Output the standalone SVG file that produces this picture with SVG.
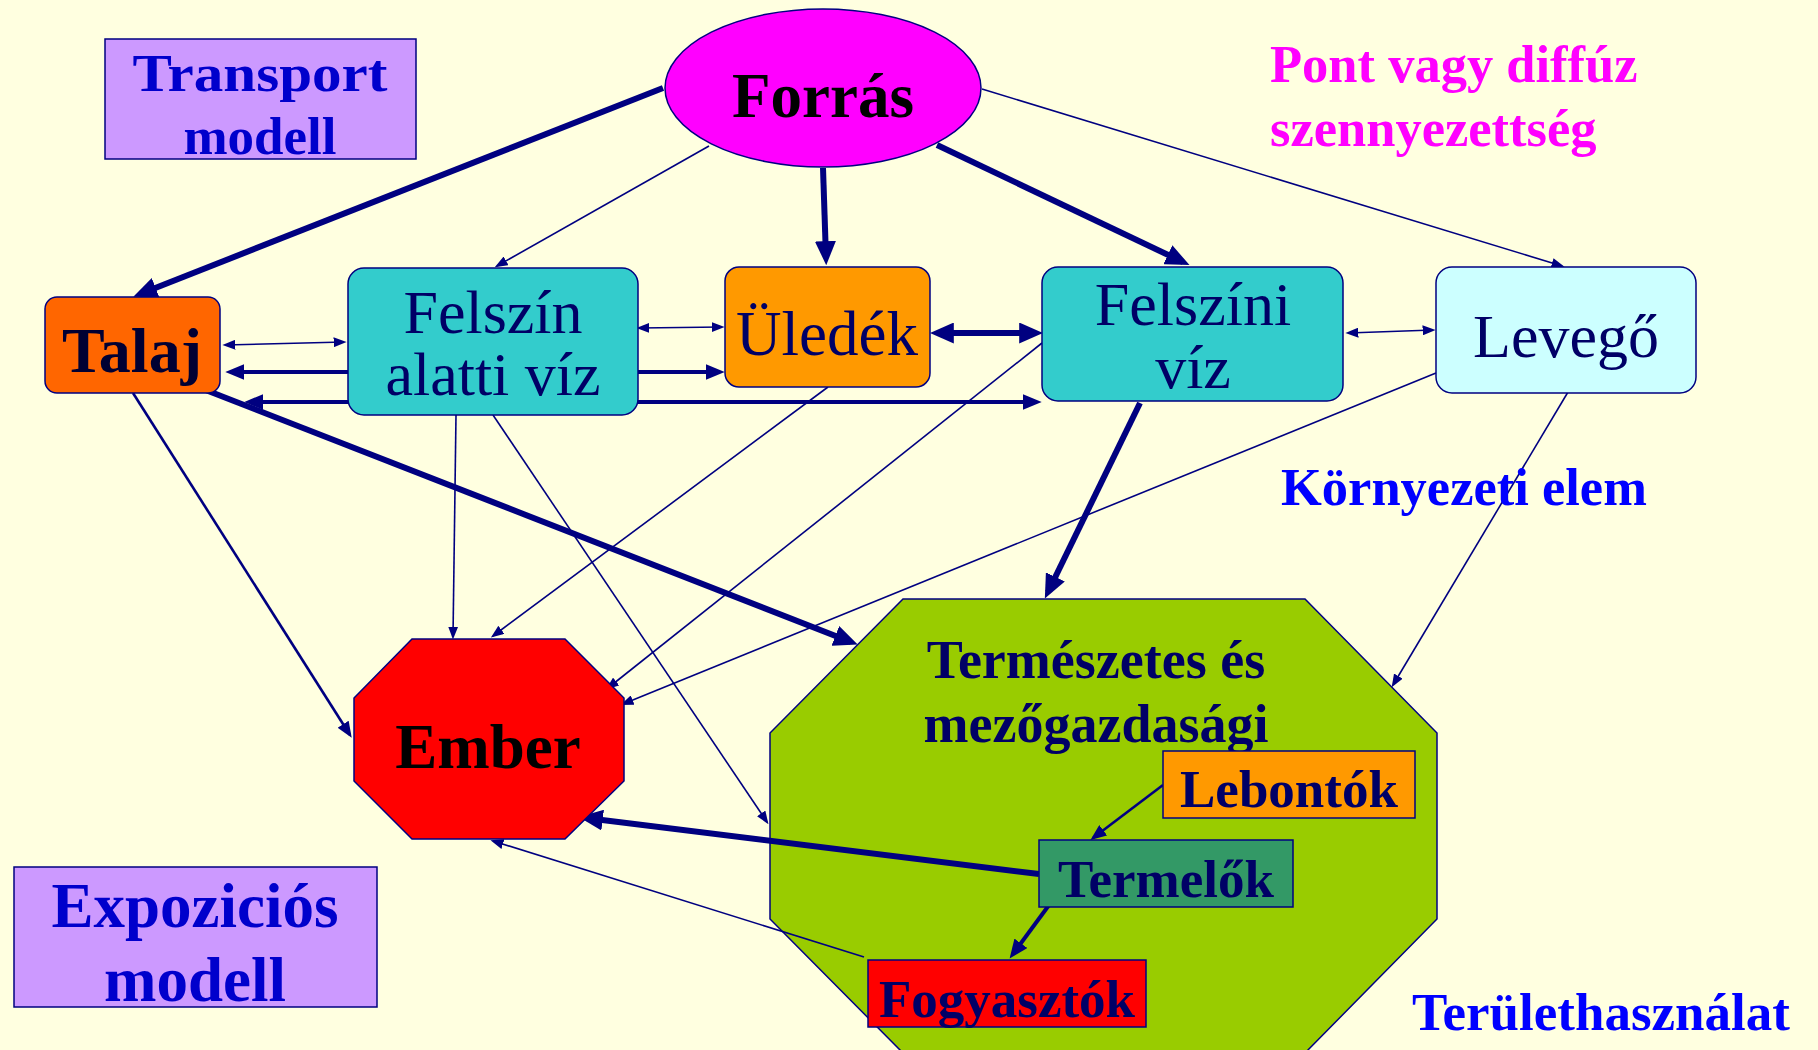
<svg xmlns="http://www.w3.org/2000/svg" width="1818" height="1050" viewBox="0 0 1818 1050">
<defs>
<style>
.bx{stroke:#000080;stroke-width:1.5}
.t{font-family:"Liberation Serif","Times New Roman",serif;text-anchor:middle}
.b{font-weight:bold}
.nv{fill:#000066}
.c{fill:none;stroke:#000080;stroke-linecap:butt}
.th{stroke-width:1.6;marker-end:url(#as)}
.md{stroke-width:4;marker-end:url(#am)}
.tk{stroke-width:6;marker-end:url(#al)}
.m2{stroke-width:2.6;marker-end:url(#am2)}
</style>
<marker id="as" viewBox="0 0 10 10" refX="8" refY="5" markerWidth="13" markerHeight="10" markerUnits="userSpaceOnUse" orient="auto-start-reverse" preserveAspectRatio="none"><path d="M0,0 L10,5 L0,10 z" fill="#000080"/></marker>
<marker id="am2" viewBox="0 0 10 10" refX="8" refY="5" markerWidth="16" markerHeight="13" markerUnits="userSpaceOnUse" orient="auto-start-reverse" preserveAspectRatio="none"><path d="M0,0 L10,5 L0,10 z" fill="#000080"/></marker>
<marker id="am" viewBox="0 0 10 10" refX="7" refY="5" markerWidth="19" markerHeight="16" markerUnits="userSpaceOnUse" orient="auto-start-reverse" preserveAspectRatio="none"><path d="M0,0 L10,5 L0,10 z" fill="#000080"/></marker>
<marker id="al" viewBox="0 0 10 10" refX="7" refY="5" markerWidth="24" markerHeight="21" markerUnits="userSpaceOnUse" orient="auto-start-reverse" preserveAspectRatio="none"><path d="M0,0 L10,5 L0,10 z" fill="#000080"/></marker>
</defs>
<rect x="0" y="0" width="1818" height="1050" fill="#FFFFE0"/>

<g id="node-termeszetes">
<polygon class="bx" fill="#99CC00" points="903,599 1305,599 1437,733 1437,919 1305,1053 903,1053 770,919 770,733"/>
<text class="t b nv" x="1096" y="678" font-size="54">Természetes és</text>
<text class="t b nv" x="1096" y="742" font-size="54">mezőgazdasági</text>
</g>

<g id="connectors">
<path class="c tk" d="M663,88 L140,294"/>
<path class="c th" d="M709,146 L497,266"/>
<path class="c tk" d="M823,168 L826,258"/>
<path class="c tk" d="M937,145 L1183,262"/>
<path class="c th" d="M982,89 L1562,266"/>
<path class="c th" d="M225,345 L344,342" style="marker-start:url(#as)"/>
<path class="c md" d="M348,372 L231,372"/>
<path class="c th" d="M639,328 L722,327" style="marker-start:url(#as)"/>
<path class="c md" d="M638,372 L719,372"/>
<path class="c md" d="M250,402 L1036,402" style="marker-start:url(#am)"/>
<path class="c tk" d="M937,333 L1036,333" style="marker-start:url(#al)"/>
<path class="c th" d="M1348,333 L1433,330" style="marker-start:url(#as)"/>
<path class="c tk" d="M198,387 L851,642"/>
<path class="c m2" d="M133,393 L350,735"/>
<path class="c th" d="M456,415 L453,637"/>
<path class="c th" d="M493,415 L767,822"/>
<path class="c th" d="M828,387 L493,636"/>
<path class="c th" d="M1042,343 L608,688"/>
<path class="c th" d="M1436,373 L623,704"/>
<path class="c tk" d="M1140,403 L1048,592"/>
<path class="c th" d="M1571,387 L1393,685"/>
<path class="c m2" d="M1163,785 L1093,838"/>
<path class="c md" d="M1052,901 L1013,954"/>
<path class="c tk" d="M1039,874 L586,818"/>
<path class="c th" d="M864,957 L493,841"/>
</g>

<g id="node-transport">
<rect class="bx" x="105" y="39" width="311" height="120" fill="#CC99FF"/>
<text class="t b" x="260" y="91" font-size="53" fill="#0000CC" textLength="255" lengthAdjust="spacingAndGlyphs">Transport</text>
<text class="t b" x="260" y="154" font-size="53" fill="#0000CC">modell</text>
</g>

<g id="node-forras">
<ellipse class="bx" cx="823" cy="88" rx="158" ry="79" fill="#FF00FF"/>
<text class="t b" x="823" y="117" font-size="63" fill="#000000">Forrás</text>
</g>

<g id="node-talaj">
<rect class="bx" x="45" y="297" width="175" height="96" rx="12" fill="#FF6600"/>
<text class="t b" x="132" y="372" font-size="64" fill="#000033">Talaj</text>
</g>

<g id="node-fav">
<rect class="bx" x="348" y="268" width="290" height="147" rx="16" fill="#33CCCC"/>
<text class="t nv" x="493" y="333" font-size="62">Felszín</text>
<text class="t nv" x="493" y="395" font-size="62">alatti víz</text>
</g>

<g id="node-uledek">
<rect class="bx" x="725" y="267" width="205" height="120" rx="14" fill="#FF9900"/>
<text class="t nv" x="827" y="355" font-size="63">Üledék</text>
</g>

<g id="node-felszini">
<rect class="bx" x="1042" y="267" width="301" height="134" rx="16" fill="#33CCCC"/>
<text class="t nv" x="1193" y="325" font-size="62">Felszíni</text>
<text class="t nv" x="1193" y="388" font-size="62">víz</text>
</g>

<g id="node-levego">
<rect class="bx" x="1436" y="267" width="260" height="126" rx="16" fill="#CCFFFF"/>
<text class="t nv" x="1566" y="357" font-size="62">Levegő</text>
</g>

<g id="node-ember">
<polygon class="bx" fill="#FF0000" points="412,639 565,639 624,698 624,781 565,839 412,839 354,781 354,698"/>
<text class="t b" x="488" y="768" font-size="63" fill="#000000">Ember</text>
</g>

<g id="node-lebontok">
<rect class="bx" x="1163" y="751" width="252" height="67" fill="#FF9900"/>
<text class="t b nv" x="1289" y="807" font-size="53">Lebontók</text>
</g>

<g id="node-termelok">
<rect class="bx" x="1039" y="840" width="254" height="67" fill="#339966"/>
<text class="t b nv" x="1166" y="897" font-size="53">Termelők</text>
</g>

<g id="node-fogyasztok">
<rect class="bx" x="868" y="960" width="278" height="67" fill="#FF0000"/>
<text class="t b nv" x="1007" y="1017" font-size="53">Fogyasztók</text>
</g>

<g id="node-expozicios">
<rect class="bx" x="14" y="867" width="363" height="140" fill="#CC99FF"/>
<text class="t b" x="195" y="927" font-size="63" fill="#0000CC">Expoziciós</text>
<text class="t b" x="195" y="1001" font-size="63" fill="#0000CC">modell</text>
</g>

<g id="labels">
<text class="b" x="1270" y="82" font-size="52.5" font-family="Liberation Serif, serif" fill="#FF00FF">Pont vagy diffúz</text>
<text class="b" x="1270" y="146" font-size="52.5" font-family="Liberation Serif, serif" fill="#FF00FF">szennyezettség</text>
<text class="b" x="1281" y="505" font-size="52.5" font-family="Liberation Serif, serif" fill="#0000FF">Környezeti elem</text>
<text class="b" x="1412" y="1030" font-size="53" font-family="Liberation Serif, serif" fill="#0000FF">Területhasználat</text>
</g>
</svg>
